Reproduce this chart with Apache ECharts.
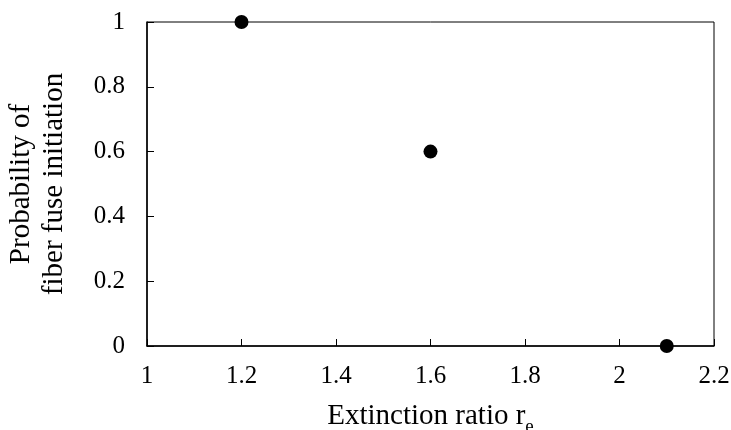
<!DOCTYPE html>
<html><head><meta charset="utf-8">
<script src="https://cdn.jsdelivr.net/npm/echarts@6/dist/echarts.min.js"></script>
<style>html,body{margin:0;padding:0;background:#fff}#c{width:731px;height:430px}</style>
</head><body><div id="c"></div>
<script>
const xValues = [1.2, 1.6, 2.1];
const yValues = [1, 0.6, 0];
const xTicks = [1, 1.2, 1.4, 1.6, 1.8, 2, 2.2];
const yTicks = [0, 0.2, 0.4, 0.6, 0.8, 1];

const font = '"Liberation Serif", "Times New Roman", serif';
const chart = echarts.init(document.getElementById('c'), null, {renderer: 'canvas'});
chart.setOption({
  animation: false,
  backgroundColor: '#fff',
  grid: {left: 147, top: 22, width: 567, height: 324, show: true, borderColor: '#000', borderWidth: 1,
    containLabel: false, outerBoundsMode: 'none'},
  xAxis: {
    type: 'value', min: 1, max: 2.2, interval: 0.2,
    name: '{a|Extinction ratio r}{s|e}',
    nameLocation: 'middle', nameGap: 55,
    nameTextStyle: {rich: {
      a: {fontFamily: font, fontSize: 29, color: '#000', lineHeight: 30},
      s: {fontFamily: font, fontSize: 19, color: '#000', lineHeight: 30, padding: [22, 0, 0, 0]}
    }},
    axisLine: {show: true, lineStyle: {color: '#000', width: 1.5}},
    axisTick: {show: true, inside: true, length: 7, lineStyle: {color: '#000', width: 1}},
    splitLine: {show: false},
    axisLabel: {fontFamily: font, fontSize: 25, color: '#000', margin: 18,
      formatter: v => { const t = xTicks.find(k => Math.abs(k - v) < 1e-6); return t === undefined ? '' : String(t); }}
  },
  yAxis: {
    type: 'value', min: 0, max: 1, interval: 0.2,
    name: 'Probability of\nfiber fuse initiation',
    nameLocation: 'middle', nameGap: 76, nameRotate: 90,
    nameTextStyle: {fontFamily: font, fontSize: 29, color: '#000', lineHeight: 33},
    axisLine: {show: true, lineStyle: {color: '#000', width: 1.5}},
    axisTick: {show: true, inside: true, length: 7, lineStyle: {color: '#000', width: 1}},
    splitLine: {show: false},
    axisLabel: {fontFamily: font, fontSize: 25, color: '#000', margin: 22,
      formatter: v => { const t = yTicks.find(k => Math.abs(k - v) < 1e-6); return t === undefined ? '' : String(t); }}
  },
  series: [{
    type: 'scatter',
    data: xValues.map((x, i) => [x, yValues[i]]),
    symbol: 'circle', symbolSize: 14,
    itemStyle: {color: '#000', opacity: 1},
    clip: false
  }]
});
</script></body></html>
